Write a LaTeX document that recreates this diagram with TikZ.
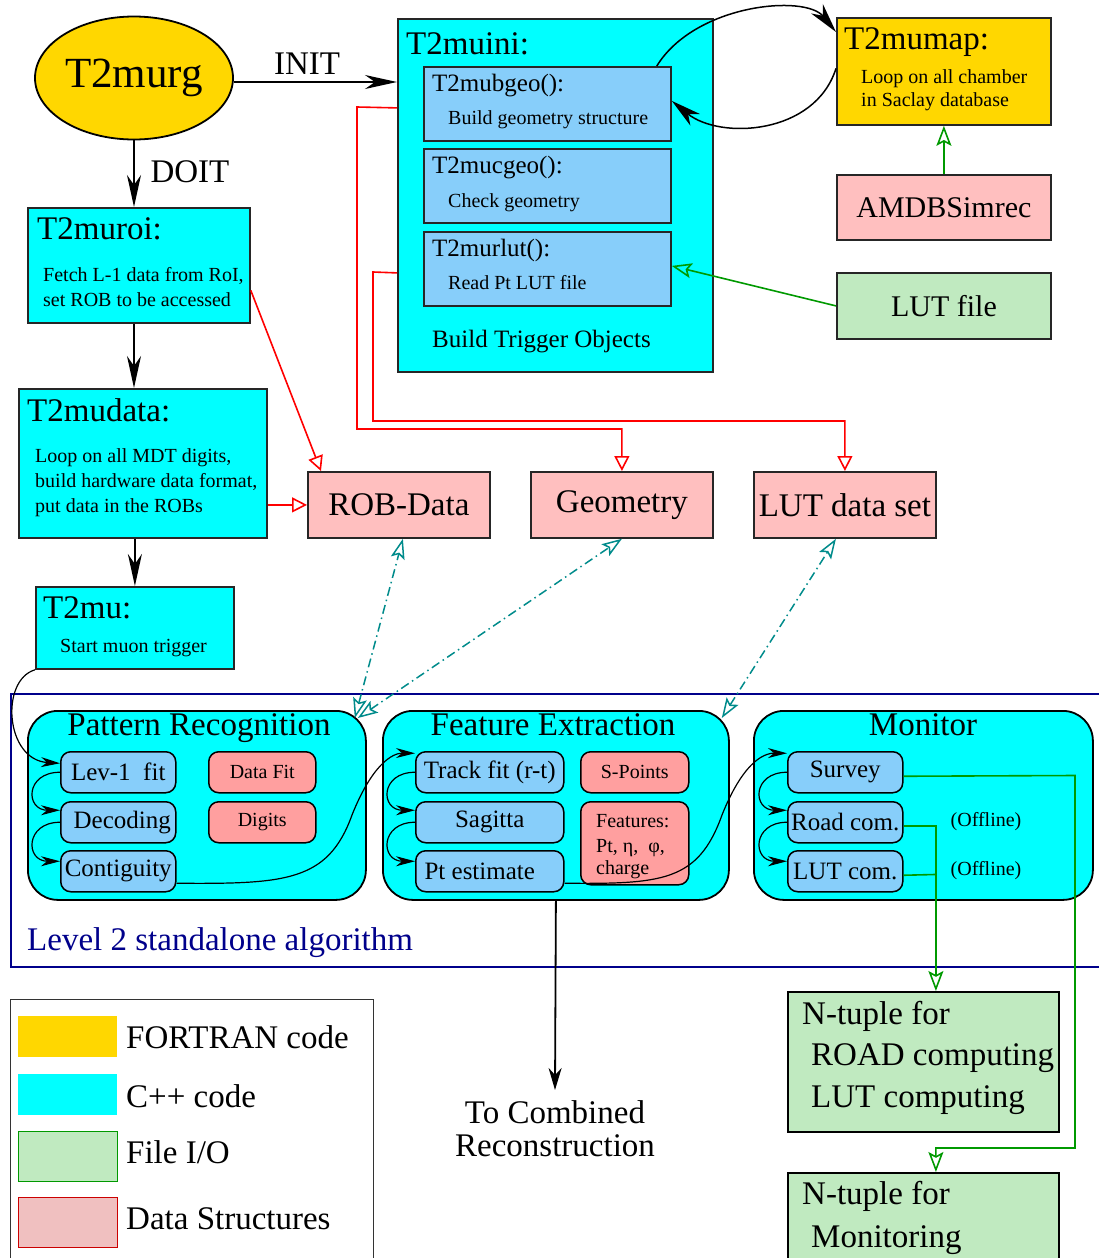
\documentclass[tikz,border=0pt]{standalone}
\usepackage{fontspec}
\setmainfont{Liberation Serif}
\usetikzlibrary{arrows.meta,calc,shapes.geometric}
\definecolor{goldc}{HTML}{FFD700}
\definecolor{cyanc}{HTML}{00FFFF}
\definecolor{skyc}{HTML}{87CEFA}
\definecolor{pinkc}{HTML}{FFBFBF}
\definecolor{salmonc}{HTML}{FF9F9F}
\definecolor{greenc}{HTML}{C0EAC0}
\definecolor{legpink}{HTML}{F0C0C0}
\definecolor{navyc}{HTML}{00008B}
\definecolor{tealc}{HTML}{008B8B}
\definecolor{redc}{HTML}{FF0000}
\definecolor{grnline}{HTML}{009900}
\tikzset{
  big/.style={font=\fontsize{33}{38}\selectfont},
  med/.style={font=\fontsize{25}{29}\selectfont},
  sml/.style={font=\fontsize{20}{24}\selectfont},
  txt/.style={inner sep=0pt, anchor=base west},
  box/.style={draw=black!85, line width=1.8pt, rectangle, inner sep=0pt, anchor=north west},
  rbox/.style={draw=black, line width=1.8pt, rectangle, rounded corners=30pt, inner sep=0pt, anchor=north west, fill=cyanc},
  ibox/.style={draw=black, line width=1.5pt, rectangle, rounded corners=10pt, inner sep=0pt, anchor=north west, minimum height=41pt},
  bigarrow/.style={line width=1.8pt, -{Stealth[length=32pt,width=14pt,inset=10pt]}},
  carrow/.style={line width=1.2pt, -{Stealth[length=19pt,width=10pt,inset=6pt]}},
  larrow/.style={line width=1.5pt, -{Stealth[length=30pt,width=15pt,inset=9pt]}},
  redarrow/.style={draw=redc, line width=1.6pt, -{Triangle[open,length=15pt,width=15pt]}},
  grnarrow/.style={draw=grnline, line width=1.6pt, -{Stealth[open,length=20pt,width=15pt,inset=4pt]}},
  tealarrow/.style={draw=tealc, line width=1.5pt, dash pattern=on 9pt off 4pt on 1.5pt off 4pt,
     {Stealth[open,length=20pt,width=14pt,inset=4pt]}-{Stealth[open,length=20pt,width=14pt,inset=4pt]}}
}
\begin{document}
\begin{tikzpicture}[x=1pt,y=-1pt]
\useasboundingbox (0,0) rectangle (1099,1258);
\clip (0,0) rectangle (1099,1258);

% ---------- top left chain ----------
\node[ellipse, draw=black, line width=1.8pt, fill=goldc, minimum width=198pt, minimum height=123pt,
      inner sep=0pt, font=\fontsize{43}{48}\selectfont] (murg) at (134,78) {T2murg};

\node[box, fill=cyanc, minimum width=222pt, minimum height=115pt] (muroi) at (27,207) {};
\node[txt, big] (muroiT) at (37,239) {T2muroi:};
\node[txt, sml] (muroiA) at (43,281) {Fetch L-1 data from RoI,};
\node[txt, sml] (muroiB) at (43,306) {set ROB to be accessed};

\node[box, fill=cyanc, minimum width=248pt, minimum height=149pt] (mudata) at (18,388) {};
\node[txt, big] (mudataT) at (27,421) {T2mudata:};
\node[txt, sml] (mudataA) at (35,462) {Loop on all MDT digits,};
\node[txt, sml] (mudataB) at (35,487) {build hardware data format,};
\node[txt, sml] (mudataC) at (35,512) {put data in the ROBs};

\node[box, fill=cyanc, minimum width=198pt, minimum height=82pt] (mu) at (35,586) {};
\node[txt, big] (muT) at (43,618) {T2mu:};
\node[txt, sml] (muA) at (60,652) {Start muon trigger};

% ---------- T2muini ----------
\node[box, fill=cyanc, minimum width=315pt, minimum height=353pt] (muini) at (397,18) {};
\node[txt, big] (muiniT) at (406,54) {T2muini:};
\node[box, fill=skyc, minimum width=247pt, minimum height=74pt] (mubgeo) at (423,66) {};
\node[txt, med] (mubgeoT) at (432,91) {T2mubgeo():};
\node[txt, sml] (mubgeoA) at (448,124) {Build geometry structure};
\node[box, fill=skyc, minimum width=247pt, minimum height=74pt] (mucgeo) at (423,148) {};
\node[txt, med] (mucgeoT) at (432,173) {T2mucgeo():};
\node[txt, sml] (mucgeoA) at (448,207) {Check geometry};
\node[box, fill=skyc, minimum width=247pt, minimum height=74pt] (murlut) at (423,231) {};
\node[txt, med] (murlutT) at (432,256) {T2murlut():};
\node[txt, sml] (murlutA) at (448,289) {Read Pt LUT file};
\node[txt, med] (muiniB) at (432,347) {Build Trigger Objects};

% ---------- right column ----------
\node[box, fill=goldc, minimum width=214pt, minimum height=107pt] (mumap) at (836,17) {};
\node[txt, big] (mumapT) at (844,49) {T2mumap:};
\node[txt, sml] (mumapA) at (861,83) {Loop on all chamber};
\node[txt, sml] (mumapB) at (861,106) {in Saclay database};
\node[box, fill=pinkc, minimum width=214pt, minimum height=65pt, font=\fontsize{30}{34}\selectfont] (amdb) at (836,174) {AMDBSimrec};
\node[box, fill=greenc, minimum width=214pt, minimum height=66pt, font=\fontsize{30}{34}\selectfont] (lutfile) at (836,272) {LUT file};

% ---------- data structures ----------
\node[box, fill=pinkc, minimum width=182pt, minimum height=66pt, big] (robdata) at (307,471) {ROB-Data};
\node[box, fill=pinkc, minimum width=182pt, minimum height=66pt, big] (geometry) at (530,471) {Geometry};
\node[box, fill=pinkc, minimum width=182pt, minimum height=66pt, big] (lutds) at (753,471) {LUT data set};

% ---------- level 2 frame ----------
\node[draw=navyc, line width=1.6pt, rectangle, inner sep=0pt, anchor=north west,
      minimum width=1100pt, minimum height=273pt] (lvl) at (10,693) {};
\node[txt, big, text=navyc] (lvlT) at (27,950) {Level 2 standalone algorithm};

% pattern recognition
\node[rbox, minimum width=338pt, minimum height=189pt] (pattern) at (27,710) {};
\node[inner sep=0pt, anchor=base, big] (patternT) at (199,735) {Pattern Recognition};
\node[ibox, fill=skyc, minimum width=115pt, med] (lev) at (60,751) {Lev-1~~fit};
\node[ibox, fill=skyc, minimum width=115pt, med] (dec) at (60,801) {\hspace*{8pt}Decoding};
\node[ibox, fill=skyc, minimum width=115pt, med] (cont) at (60,850) {Contiguity};
\node[ibox, fill=salmonc, minimum width=107pt, sml] (datafit) at (208,751) {Data Fit};
\node[ibox, fill=salmonc, minimum width=107pt, sml] (digits) at (208,801) {Digits};

% feature extraction
\node[rbox, minimum width=346pt, minimum height=189pt] (feature) at (382,710) {};
\node[inner sep=0pt, anchor=base, big] (featureT) at (553,735) {Feature Extraction};
\node[ibox, fill=skyc, minimum width=148pt, med] (track) at (415,751) {Track fit (r-t)};
\node[ibox, fill=skyc, minimum width=148pt, med] (sag) at (415,801) {Sagitta};
\node[ibox, fill=skyc, minimum width=148pt, med] (pt) at (415,850) {Pt estimate\hspace*{20pt}};
\node[ibox, fill=salmonc, minimum width=108pt, sml] (spoints) at (580,751) {S-Points};
\node[ibox, fill=salmonc, minimum width=108pt, minimum height=83pt] (feat) at (580,801) {};
\node[txt, sml] (featA) at (596,827) {Features:};
\node[txt, sml] (featB) at (596,852) {Pt, η,\ \ φ,};
\node[txt, sml] (featC) at (596,874) {charge};

% monitor
\node[rbox, minimum width=339pt, minimum height=189pt] (monitor) at (753,710) {};
\node[inner sep=0pt, anchor=base, big] (monitorT) at (923,735) {Monitor};
\node[ibox, fill=skyc, minimum width=115pt, med] (survey) at (787,751) {Survey};
\node[ibox, fill=skyc, minimum width=115pt, med] (road) at (787,801) {Road com.};
\node[ibox, fill=skyc, minimum width=115pt, med] (lutc) at (787,850) {LUT com.};
\node[inner sep=0pt, anchor=base, sml] (off1) at (986,826) {(Offline)};
\node[inner sep=0pt, anchor=base, sml] (off2) at (986,875) {(Offline)};

% ---------- outputs ----------
\node[box, fill=greenc, draw=black, minimum width=271pt, minimum height=140pt] (ntup1) at (787,991) {};
\node[txt, big] (ntup1A) at (802,1024) {N-tuple for};
\node[txt, big] (ntup1B) at (811,1065) {ROAD computing};
\node[txt, big] (ntup1C) at (811,1107) {LUT computing};
\node[box, fill=greenc, draw=black, minimum width=271pt, minimum height=110pt] (ntup2) at (787,1172) {};
\node[txt, big] (ntup2A) at (802,1204) {N-tuple for};
\node[txt, big] (ntup2B) at (811,1247) {Monitoring};

\coordinate (comb) at (555,1090);
\node[inner sep=0pt, anchor=base, big] (combA) at (555,1123) {To Combined};
\node[inner sep=0pt, anchor=base, big] (combB) at (555,1156) {Reconstruction};

% ---------- legend ----------
\node[draw=black!80, line width=1.2pt, rectangle, inner sep=0pt, anchor=north west,
      minimum width=363pt, minimum height=280pt] (legend) at (10,999) {};
\node[rectangle, inner sep=0pt, anchor=north west, fill=goldc, minimum width=99pt, minimum height=41pt] (lg1) at (18,1016) {};
\node[rectangle, inner sep=0pt, anchor=north west, fill=cyanc, minimum width=99pt, minimum height=41pt] (lg2) at (18,1074) {};
\node[rectangle, inner sep=0pt, anchor=north west, fill=greenc, draw=grnline, line width=1pt, minimum width=99pt, minimum height=50pt] (lg3) at (18,1131) {};
\node[rectangle, inner sep=0pt, anchor=north west, fill=legpink, draw=redc!80!black, line width=1pt, minimum width=99pt, minimum height=50pt] (lg4) at (18,1197) {};
\node[txt, big] (lg1T) at (126,1048) {FORTRAN code};
\node[txt, big] (lg2T) at (126,1107) {C++ code};
\node[txt, big] (lg3T) at (126,1163) {File I/O};
\node[txt, big] (lg4T) at (126,1229) {Data Structures};

% ---------- connectors ----------
\draw[bigarrow] ([yshift=-4pt]murg.east) -- ([yshift=-4pt]murg.east -| muini.west);
\node[inner sep=0pt, anchor=base, big] (initL) at (307,74) {INIT};
\draw[bigarrow] (murg.south) -- (murg.south |- muroi.north);
\node[inner sep=0pt, anchor=base, big] (doitL) at (190,182) {DOIT};
\draw[bigarrow] (murg.south |- muroi.south) -- (murg.south |- mudata.north);
\draw[bigarrow] (mu.north |- mudata.south) -- (mu.north);

% T2mubgeo <-> T2mumap
\draw[larrow] ([xshift=-15pt]mubgeo.north east) .. controls (695,4) and (805,-6) .. ([yshift=-15pt]mumap.north west);
\draw[larrow] ([yshift=3pt]mumap.west) .. controls (815,135) and (720,140) .. ([yshift=3pt]mubgeo.east);

% green
\draw[grnarrow] (amdb.north) -- (mumap.south);
\draw[grnarrow] (lutfile.west) -- ([yshift=3pt]murlut.east);

% red
\draw[redarrow] ([yshift=-25pt]muroi.east) -- ([xshift=14pt]robdata.north west);
\draw[redarrow] (mudata.east |- robdata.west) -- (robdata.west);
\draw[redarrow] ([yshift=87.5pt]muini.west) -- (357,107) -- (357,429) -| (geometry.north);
\draw[redarrow] ([yshift=-77.5pt]muini.west) -- (373,272) -- (373,421) -| (lutds.north);

% teal dash-dot
\coordinate (pcorner) at ($(pattern.north east)+(-9,8)$);
\coordinate (fcorner) at ($(feature.north east)+(-8,8)$);
\draw[tealarrow] ([xshift=-3pt]pcorner) -- ([xshift=4pt]robdata.south);
\draw[tealarrow] (pcorner) -- (geometry.south);
\draw[tealarrow] (fcorner) -- ([xshift=-9pt]lutds.south);

% black curved
\draw[carrow] (mu.south west) .. controls (0,680) and (5,760) .. ([yshift=9pt]lev.west);
\draw[carrow] (lev.west) .. controls +(-35,0) and +(-35,0) .. ([yshift=12pt]dec.west);
\draw[carrow] (dec.west) .. controls +(-35,0) and +(-35,0) .. ([yshift=10pt]cont.west);
\draw[carrow] (track.west) .. controls +(-35,0) and +(-35,0) .. ([yshift=12pt]sag.west);
\draw[carrow] (sag.west) .. controls +(-35,0) and +(-35,0) .. ([yshift=10pt]pt.west);
\draw[carrow] (survey.west) .. controls +(-35,0) and +(-35,0) .. ([yshift=12pt]road.west);
\draw[carrow] (road.west) .. controls +(-35,0) and +(-35,0) .. ([yshift=10pt]lutc.west);
\draw[carrow] ([yshift=-12pt]cont.east) .. controls (285,884) and (328,882) .. (352,815)
      .. controls (372,765) and (392,753) .. ([yshift=19pt]track.west);
\draw[carrow] ([yshift=-12pt]pt.east) .. controls (662,884) and (698,882) .. (722,815)
      .. controls (742,765) and (762,753) .. ([yshift=19pt]survey.west);

% monitor outputs
\draw[grnarrow] ([yshift=-4pt]survey.east) -- (1075,775.5) -- (1075,1148) -| ([xshift=12.5pt]ntup2.north);
\draw[draw=grnline, line width=1.6pt] ([yshift=-4pt]lutc.east) -- (935,874.5);
\draw[grnarrow] ([yshift=-4pt]road.east) -| ([xshift=12.5pt]ntup1.north);

% to combined
\draw[line width=1.8pt, -{Stealth[length=22pt,width=13pt,inset=7pt]}] (feature.south) -- (comb);
\end{tikzpicture}
\end{document}
